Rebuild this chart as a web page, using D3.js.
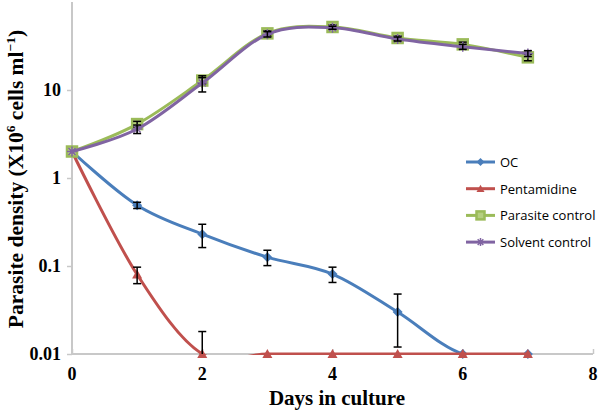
<!DOCTYPE html>
<html>
<head>
<meta charset="utf-8">
<script src="https://cdn.jsdelivr.net/npm/d3@7"></script>
<style>
  body { margin: 0; background: #fff; }
  svg { display: block; }
</style>
</head>
<body>
<div id="chart"></div>
<script>
// Données
const days = [0, 1, 2, 3, 4, 5, 6, 7];
const ocValues = [2, 0.49, 0.23, 0.126, 0.081, 0.030, 0.01, 0.01];
const ocErrors = [0, 0.04, 0.068, 0.025, 0.016, 0.018, 0, 0];
const pentaValues = [2, 0.08, 0.01, 0.01, 0.01, 0.01, 0.01, 0.01];
const pentaErrors = [0, 0.017, 0.008, 0, 0, 0, 0, 0];
const parasiteValues = [2, 4.1, 12.8, 44, 52, 39, 33, 23.5];
const parasiteErrors = [0, 0.3, 1.0, 3, 3, 2, 2, 2];
const solventValues = [2, 3.6, 12, 43, 51, 38, 31, 26];
const solventErrors = [0, 0.4, 2.5, 3, 2, 2, 2, 2];
const seriesNames = ["OC", "Pentamidine", "Parasite control", "Solvent control"];
const xTicks = [0, 2, 4, 6, 8];
const yTicks = [0.01, 0.1, 1, 10];

const width = 600, height = 410;
const margin = {top: 2, right: 7, bottom: 56, left: 72};

const series = [
  {name: seriesNames[0], values: ocValues, errors: ocErrors, color: "#4a7ebb", marker: "diamond"},
  {name: seriesNames[1], values: pentaValues, errors: pentaErrors, color: "#c0504d", marker: "triangle"},
  {name: seriesNames[2], values: parasiteValues, errors: parasiteErrors, color: "#9bbb59", marker: "square"},
  {name: seriesNames[3], values: solventValues, errors: solventErrors, color: "#8064a2", marker: "star"}
];

const svg = d3.select("#chart").append("svg")
  .attr("width", width)
  .attr("height", height);

const x = d3.scaleLinear().domain([0, 8]).range([margin.left, width - margin.right]);
const y = d3.scaleLog().domain([0.01, 100]).range([height - margin.bottom, margin.top]);

// Zone de tracé (pour les lignes seulement)
svg.append("defs").append("clipPath").attr("id", "plot")
  .append("rect")
  .attr("x", margin.left - 8).attr("y", 0)
  .attr("width", width - margin.left).attr("height", y(0.01) + 1);

// Axes
const axisColor = "#c8c8c8";
const gx = svg.append("g")
  .attr("transform", `translate(0, ${y(0.01)})`)
  .call(d3.axisTop(x).tickValues(xTicks).tickSize(5).tickFormat(""));
gx.select(".domain").remove();
gx.append("line").attr("x1", x(0)).attr("x2", x(8)).attr("stroke", axisColor).attr("stroke-width", 2);
gx.selectAll(".tick line").attr("stroke", axisColor).attr("stroke-width", 1.5);

svg.append("g").selectAll("text")
  .data(xTicks)
  .enter().append("text")
  .attr("x", d => x(d))
  .attr("y", y(0.01) + 26)
  .attr("text-anchor", "middle")
  .style("font-family", "'Liberation Serif', 'Times New Roman', serif")
  .style("font-weight", "bold")
  .style("font-size", "18px")
  .text(d => d);

const gy = svg.append("g")
  .attr("transform", `translate(${x(0)}, 0)`)
  .call(d3.axisLeft(y).tickValues(yTicks).tickSize(5).tickPadding(6).tickFormat(d => d));
gy.select(".domain").remove();
gy.append("line").attr("y1", y(100)).attr("y2", y(0.01)).attr("stroke", axisColor).attr("stroke-width", 2);
gy.selectAll(".tick line").attr("stroke", axisColor).attr("stroke-width", 1.5);
gy.selectAll("text")
  .style("font-family", "'Liberation Serif', 'Times New Roman', serif")
  .style("font-weight", "bold")
  .style("font-size", "18px")
  .style("fill", "#000");

// Titres des axes
svg.append("text")
  .attr("x", 337)
  .attr("y", 405)
  .attr("text-anchor", "middle")
  .style("font-family", "'Liberation Serif', 'Times New Roman', serif")
  .style("font-weight", "bold")
  .style("font-size", "21px")
  .text("Days in culture");

const ylab = svg.append("text")
  .attr("transform", "translate(23, 179) rotate(-90)")
  .attr("text-anchor", "middle")
  .style("font-family", "'Liberation Serif', 'Times New Roman', serif")
  .style("font-weight", "bold")
  .style("font-size", "21.5px");
ylab.append("tspan").text("Parasite density (X10");
ylab.append("tspan").attr("dy", -8).style("font-size", "13.5px").text("6");
ylab.append("tspan").attr("dy", 8).text(" cells ml");
ylab.append("tspan").attr("dy", -8).style("font-size", "13.5px").text("\u22121");
ylab.append("tspan").attr("dy", 8).text(")");

// Lignes lissées
const line = d3.line()
  .x((d, i) => x(days[i]))
  .y(d => y(d))
  .curve(d3.curveCatmullRom.alpha(0));

const plot = svg.append("g");

function drawMarker(g, s, cx, cy, size) {
  if (s.marker === "diamond") {
    g.append("path")
      .attr("d", `M${cx},${cy - size}L${cx + size},${cy}L${cx},${cy + size}L${cx - size},${cy}Z`)
      .attr("fill", s.color);
  } else if (s.marker === "triangle") {
    g.append("path")
      .attr("d", `M${cx},${cy - size}L${cx + size},${cy + size * 0.8}L${cx - size},${cy + size * 0.8}Z`)
      .attr("fill", s.color);
  } else if (s.marker === "square") {
    g.append("rect")
      .attr("x", cx - size).attr("y", cy - size)
      .attr("width", size * 2).attr("height", size * 2)
      .attr("fill", "#b5cf7f")
      .attr("stroke", s.color)
      .attr("stroke-width", 2.5);
  } else {
    const r = size;
    const p = [];
    for (let k = 0; k < 4; k++) {
      const a = k * Math.PI / 4;
      p.push(`M${cx - r * Math.cos(a)},${cy - r * Math.sin(a)}L${cx + r * Math.cos(a)},${cy + r * Math.sin(a)}`);
    }
    g.append("path").attr("d", p.join("")).attr("stroke", s.color).attr("stroke-width", 1.5);
  }
}

series.forEach(s => {
  plot.append("path")
    .datum(s.values)
    .attr("d", line)
    .attr("clip-path", "url(#plot)")
    .attr("fill", "none")
    .attr("stroke", s.color)
    .attr("stroke-width", 3);

  s.values.forEach((v, i) => drawMarker(plot, s, x(days[i]), y(v), 5));

  // Barres d'erreur
  const eb = plot.append("g").attr("stroke", "#000").attr("stroke-width", 1.5);
  s.values.forEach((v, i) => {
    const e = s.errors[i];
    if (!e) return;
    const cx = x(days[i]);
    const hi = y(v + e);
    const lo = y(Math.max(v - e, 0.01));
    eb.append("line").attr("x1", cx).attr("x2", cx).attr("y1", hi).attr("y2", lo);
    eb.append("line").attr("x1", cx - 4).attr("x2", cx + 4).attr("y1", hi).attr("y2", hi);
    if (v - e > 0.01) eb.append("line").attr("x1", cx - 4).attr("x2", cx + 4).attr("y1", lo).attr("y2", lo);
  });
});

// Légende
const legend = svg.append("g");
series.forEach((s, i) => {
  const ly = 162 + i * 26.7;
  const g = legend.append("g");
  g.append("line")
    .attr("x1", 466).attr("x2", 495)
    .attr("y1", ly).attr("y2", ly)
    .attr("stroke", s.color).attr("stroke-width", 3);
  drawMarker(g, s, 480.5, ly, 4);
  g.append("text")
    .attr("x", 500)
    .attr("y", ly + 5)
    .style("font-family", "'Open Sans', sans-serif")
    .style("font-size", "13px")
    .style("fill", "#000")
    .text(s.name);
});
</script>
</body>
</html>
